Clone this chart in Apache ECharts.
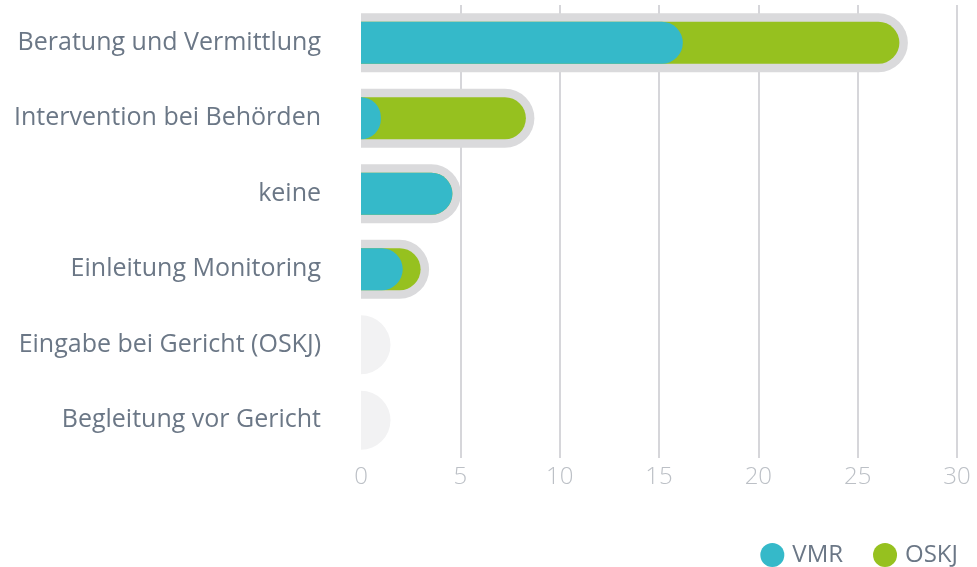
<!DOCTYPE html>
<html>
<head>
<meta charset="utf-8">
<script src="https://cdn.jsdelivr.net/npm/echarts@6/dist/echarts.min.js"></script>
<style>
  html, body { margin: 0; padding: 0; background: #fff; }
  #chart { width: 977px; height: 567px; }
</style>
</head>
<body>
<div id="chart"></div>
<script>
var categories = ["Beratung und Vermittlung", "Intervention bei Behörden", "keine", "Einleitung Monitoring", "Eingabe bei Gericht (OSKJ)", "Begleitung vor Gericht"];
var vmr = [16.2, 1, 4.6, 2.1, 0, 0];
var oskj = [10.9, 7.3, 0, 0.9, 0, 0];
var xTicks = [0, 5, 10, 15, 20, 25, 30];

var textColor = "#6b7786";
var font = "Open Sans";

// green bar is drawn as the full length, VMR laid on top of it
var totals = vmr.map(function (v, i) { return v + oskj[i]; });
var bgData = totals.map(function (t, i) { return [t, i]; });

var chart = echarts.init(document.getElementById("chart"));
chart.setOption({
  animation: false,
  grid: { left: 361, right: 20, top: 5, bottom: 109 },
  legend: {
    data: ["VMR", "OSKJ"],
    right: 14,
    top: 538,
    icon: "circle",
    itemWidth: 24,
    itemHeight: 24,
    itemGap: 30,
    textStyle: { color: textColor, fontSize: 24, fontFamily: font, padding: [0, 0, 0, 3] }
  },
  xAxis: {
    type: "value",
    min: xTicks[0],
    max: xTicks[xTicks.length - 1],
    interval: 5,
    axisLine: { show: false },
    axisTick: { show: false },
    axisLabel: { color: "#bcc0c6", fontSize: 24, fontFamily: font, fontWeight: 300, margin: 7 },
    splitLine: {
      lineStyle: { color: ["rgba(0,0,0,0)", "#c9c9ce", "#c9c9ce", "#c9c9ce", "#c9c9ce", "#c9c9ce", "#c9c9ce"], width: 1.5 }
    }
  },
  yAxis: [{
    type: "category",
    data: categories,
    inverse: true,
    axisLine: { show: false },
    axisTick: { show: false },
    axisLabel: { color: textColor, fontSize: 25, fontFamily: font, margin: 40, padding: [6, 0, 0, 0] }
  }],
  series: [
    {
      type: "custom",
      z: 1,
      silent: true,
      data: bgData,
      encode: { x: 0, y: 1 },
      renderItem: function (params, api) {
        var total = api.value(0);
        var idx = api.value(1);
        var p0 = api.coord([0, idx]);
        var p1 = api.coord([total, idx]);
        var h = 59;
        var w = Math.max(p1[0] - p0[0] + 8.5, h / 2);
        return {
          type: "rect",
          shape: { x: p0[0], y: p0[1] - h / 2, width: w, height: h, r: [0, h / 2, h / 2, 0] },
          style: { fill: total > 0 ? "#dadadc" : "#f2f2f3" }
        };
      }
    },
    {
      name: "OSKJ",
      type: "bar",
      z: 2,
      barWidth: 42,
      data: totals,
      itemStyle: { color: "#96c11f", borderRadius: [0, 21, 21, 0] }
    },
    {
      name: "VMR",
      type: "bar",
      z: 3,
      barWidth: 42,
      barGap: "-100%",
      data: vmr,
      itemStyle: { color: "#35b9c9", borderRadius: [0, 21, 21, 0] }
    }
  ]
});
</script>
</body>
</html>
